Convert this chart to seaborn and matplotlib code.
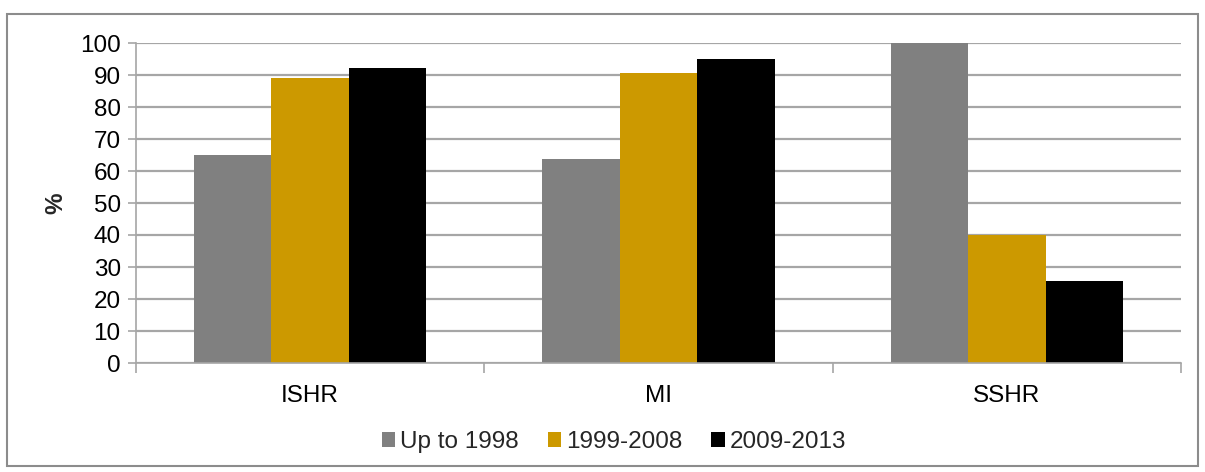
import matplotlib
matplotlib.use("Agg")
import matplotlib.pyplot as plt
from matplotlib.patches import Rectangle
from matplotlib.ticker import FixedLocator
import numpy as np
import pandas as pd
import seaborn as sns

# Share (%) by region type and period
categories = ["ISHR", "MI", "SSHR"]
periods = ["Up to 1998", "1999-2008", "2009-2013"]
up_to_1998 = [65.0, 63.7, 100.0]
p1999_2008 = [89.2, 90.6, 40.0]
p2009_2013 = [92.1, 94.9, 25.5]
colors = ["#808080", "#CC9900", "#000000"]
y_ticks = list(range(0, 101, 10))

df = pd.DataFrame({
    "category": categories * 3,
    "period": [periods[0]] * 3 + [periods[1]] * 3 + [periods[2]] * 3,
    "value": up_to_1998 + p1999_2008 + p2009_2013,
})

sns.set_theme(style="white")
plt.rcParams["font.family"] = ["Liberation Sans", "DejaVu Sans"]

W, H = 1205, 472
fig = plt.figure(figsize=(W / 100, H / 100), dpi=100)
ax = fig.add_axes([136 / W, 1 - 363 / H, (1181 - 136) / W, (363 - 43) / H])

sns.barplot(data=df, x="category", y="value", hue="period",
            hue_order=periods, palette=colors, saturation=1,
            width=0.667, gap=0, edgecolor="none", linewidth=0, ax=ax)

grid_c = "#a6a6a6"
fs = 17.5
ax.set_ylim(0, 100)
ax.set_xlim(-0.5, 2.5)
ax.set_yticks(y_ticks)
ax.yaxis.grid(True, color=grid_c, linewidth=1.6)
ax.set_axisbelow(True)
for side in ["top", "right"]:
    ax.spines[side].set_visible(False)
for side in ["left", "bottom"]:
    ax.spines[side].set_color(grid_c)
    ax.spines[side].set_linewidth(1.2)

ax.tick_params(axis="y", which="major", left=True, length=6, width=1.2,
               color=grid_c, labelsize=fs, pad=5, labelcolor="black")
ax.tick_params(axis="x", which="major", bottom=False, labelsize=fs,
               pad=10, labelcolor="black")
ax.xaxis.set_minor_locator(FixedLocator([-0.5, 0.5, 1.5, 2.5]))
ax.tick_params(axis="x", which="minor", bottom=True, length=7, width=1.2,
               color=grid_c)

ax.set_xlabel("")
ax.set_ylabel("%", fontsize=fs, fontweight="bold")
ax.yaxis.set_label_coords((67 - 136) / 1045, 0.5)

ax.get_legend().remove()
handles, labels = ax.get_legend_handles_labels()
fig.legend(handles, labels, loc="center", bbox_to_anchor=(614 / W, 1 - 442 / H),
           ncol=3, frameon=False, fontsize=fs, handlelength=0.55,
           handleheight=0.55, handletextpad=0.2, columnspacing=1.2)

# Outer chart frame
fig.patches.append(Rectangle((7 / W, 1 - 466 / H), (1198 - 7) / W,
                             (466 - 14) / H, transform=fig.transFigure,
                             fill=False, edgecolor="#8c8c8c", linewidth=1.5))

fig.savefig("out.png", dpi=100)
